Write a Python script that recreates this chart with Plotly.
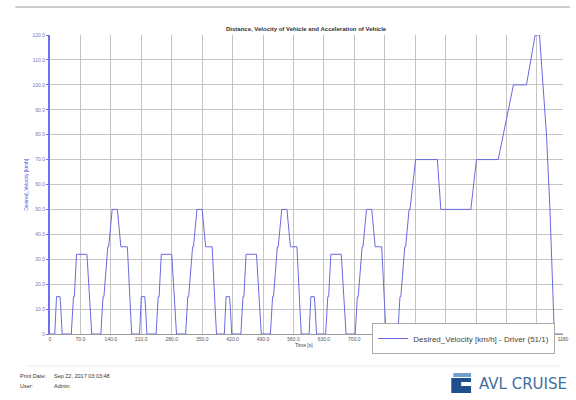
import plotly.graph_objects as go

# ---- data (NEDC desired velocity breakpoints) ----
time_s = [
    0, 11, 15, 23, 25, 28, 49, 54, 56, 61, 85, 93, 96, 117, 122, 124, 133, 135, 143, 155, 163, 176, 178, 185, 188,
    195, 206, 210, 218, 220, 223, 244, 249, 251, 256, 280, 288, 291, 312, 317, 319, 328, 330, 338, 350, 358, 371, 373, 380, 383,
    390, 401, 405, 413, 415, 418, 439, 444, 446, 451, 475, 483, 486, 507, 512, 514, 523, 525, 533, 545, 553, 566, 568, 575, 578,
    585, 596, 600, 608, 610, 613, 634, 639, 641, 646, 670, 678, 681, 702, 707, 709, 718, 720, 728, 740, 748, 761, 763, 770, 773,
    780, 800, 805, 807, 816, 818, 826, 828, 841, 891, 899, 968, 981, 1031, 1066, 1096, 1116, 1126, 1142, 1150, 1160, 1180,
]
velocity_kmh = [
    0, 0, 15, 15, 10, 0, 0, 15, 15, 32, 32, 10, 0, 0, 15, 15, 35, 35, 50, 50, 35, 35, 35, 10, 0,
    0, 0, 15, 15, 10, 0, 0, 15, 15, 32, 32, 10, 0, 0, 15, 15, 35, 35, 50, 50, 35, 35, 35, 10, 0,
    0, 0, 15, 15, 10, 0, 0, 15, 15, 32, 32, 10, 0, 0, 15, 15, 35, 35, 50, 50, 35, 35, 35, 10, 0,
    0, 0, 15, 15, 10, 0, 0, 15, 15, 32, 32, 10, 0, 0, 15, 15, 35, 35, 50, 50, 35, 35, 35, 10, 0,
    0, 0, 15, 15, 35, 35, 50, 50, 70, 70, 50, 50, 70, 70, 100, 100, 120, 120, 80, 50, 0, 0,
]
x_tick_vals = [0, 70, 140, 210, 280, 350, 420, 490, 560, 630, 700, 770, 840, 910, 980, 1050, 1120, 1180]
# labels from 770 to 1120 are hidden behind the legend box in the reference
x_tick_text = ["0", "70.0", "140.0", "210.0", "280.0", "350.0", "420.0", "490.0", "560.0", "630.0",
               "700.0", "", "", "", "", "", "", "1180"]
y_tick_vals = [0, 10, 20, 30, 40, 50, 60, 70, 80, 90, 100, 110, 120]
y_tick_text = ["0", "10.0", "20.0", "30.0", "40.0", "50.0", "60.0", "70.0", "80.0", "90.0", "100.0", "110.0", "120.0"]

series_name = "Desired_Velocity [km/h] - Driver (51/1)"
chart_title = "Distance, Velocity of Vehicle and Acceleration of Vehicle"

# ---- layout geometry (pixels) ----
W, H = 576, 400
L, R, T, B = 50, 7, 35, 66
PW = W - L - R
PH = H - T - B


def px(x):
    return (x - L) / PW


def py(y):
    return (H - B - y) / PH


fig = go.Figure()
fig.add_trace(go.Scatter(
    x=time_s, y=velocity_kmh, mode="lines", name=series_name,
    line=dict(color="#6a6ae0", width=1),
))

fig.update_layout(
    width=W, height=H,
    margin=dict(l=L, r=R, t=T, b=B),
    plot_bgcolor="white", paper_bgcolor="white",
    font=dict(family="Liberation Sans, Arial, sans-serif", color="#333"),
    showlegend=True,
    legend=dict(
        x=px(376), y=py(323), xanchor="left", yanchor="top",
        bgcolor="white", bordercolor="#aaaaaa", borderwidth=1,
        font=dict(size=8, color="#444"),
        itemwidth=30,
    ),
)

fig.update_xaxes(
    range=[0, 1180], tickvals=x_tick_vals, ticktext=x_tick_text,
    showgrid=True, gridcolor="#c4c4c4", gridwidth=1,
    showline=True, linecolor="#999999", linewidth=1,
    ticks="", tickfont=dict(size=5, color="#555"), zeroline=False,
)
fig.update_yaxes(
    range=[0, 120], tickvals=y_tick_vals, ticktext=y_tick_text,
    showgrid=True, gridcolor="#c4c4c4", gridwidth=1,
    showline=True, linecolor="#7070ee", linewidth=2,
    ticks="outside", ticklen=2, tickcolor="#7070ee",
    tickfont=dict(size=5, color="#7777bb"), zeroline=False,
)


def note(text, x, y, size, color="#333", xanchor="center", **kw):
    return dict(text=text, x=x, y=y, xref="paper", yref="paper", xanchor=xanchor, yanchor="middle",
                showarrow=False, font=dict(size=size, color=color, **kw.pop("font_extra", {})), **kw)


ann = [
    note("<b>" + chart_title + "</b>", 0.5, py(29), 6),
    note("Time [s]", px(307), py(345), 5, "#444"),
    note("Desired_Velocity [km/h]", px(25), 0.5, 5, "#5050dd", textangle=-90),
    note("Print Date:", px(18), py(376), 5.5, xanchor="left"),
    note("Sep 22, 2017 03:03:48", px(52), py(376), 5.5, xanchor="left"),
    note("User:", px(18), py(386), 5.5, xanchor="left"),
    note("Admin", px(52), py(386), 5.5, xanchor="left"),
    note("AVL CRUISE", px(482), py(384), 15, "#3f6f9f", xanchor="left",
         font_extra=dict(family="DejaVu Sans, sans-serif")),
]
fig.update_layout(annotations=ann)

shapes = []
# top border line
shapes.append(dict(type="line", xref="paper", yref="paper", x0=px(15), x1=px(576), y0=py(7), y1=py(7),
                   line=dict(color="#9a9a9a", width=1)))
# faint separator line near footer
shapes.append(dict(type="line", xref="paper", yref="paper", x0=px(27), x1=px(567), y0=py(366), y1=py(366),
                   line=dict(color="#ececec", width=1)))
# logo icon
shapes.append(dict(type="rect", xref="paper", yref="paper", x0=px(456), x1=px(476), y0=py(393), y1=py(378),
                   fillcolor="#1f4f8f", line=dict(width=0)))
shapes.append(dict(type="rect", xref="paper", yref="paper", x0=px(458), x1=px(476), y0=py(377), y1=py(373),
                   fillcolor="#6f9fcf", line=dict(width=0)))
shapes.append(dict(type="rect", xref="paper", yref="paper", x0=px(466), x1=px(476), y0=py(386), y1=py(382),
                   fillcolor="white", line=dict(width=0)))
fig.update_layout(shapes=shapes)

fig.write_html("out.html", config={"displayModeBar": False},
               post_script="document.body.style.margin='0';document.body.style.padding='0';")
